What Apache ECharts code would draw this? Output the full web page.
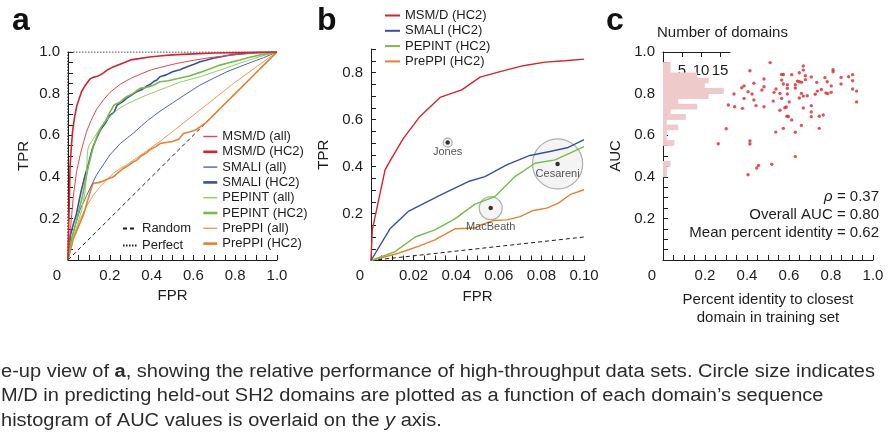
<!DOCTYPE html>
<html>
<head>
<meta charset="utf-8">
<script src="https://cdn.jsdelivr.net/npm/echarts@6/dist/echarts.min.js"></script>
<style>
html, body { margin: 0; padding: 0; background: #fff; }
#main { width: 896px; height: 435px; }
</style>
</head>
<body>
<div id="main"></div>
<script>
// ---- panel a: ROC curves, [FPR, TPR]
var msmAll = [[0,0],[0.005,0.06],[0.012,0.15],[0.025,0.3],[0.04,0.42],[0.057,0.5],[0.075,0.57],[0.09,0.62],[0.11,0.67],[0.137,0.725],[0.17,0.77],[0.2,0.805],[0.25,0.845],[0.3,0.873],[0.35,0.895],[0.4,0.915],[0.45,0.928],[0.52,0.945],[0.6,0.96],[0.66,0.97],[0.72,0.978],[0.79,0.986],[0.87,0.993],[1,1]];
var msmHc2 = [[0,0],[0.003,0.15],[0.007,0.32],[0.01,0.45],[0.015,0.53],[0.022,0.62],[0.032,0.69],[0.042,0.74],[0.055,0.78],[0.065,0.81],[0.08,0.835],[0.09,0.85],[0.105,0.87],[0.12,0.878],[0.14,0.883],[0.155,0.89],[0.17,0.9],[0.19,0.915],[0.21,0.925],[0.24,0.938],[0.27,0.95],[0.3,0.962],[0.34,0.968],[0.39,0.976],[0.45,0.982],[0.5,0.986],[0.6,0.991],[0.7,0.995],[0.8,0.997],[0.9,0.999],[1,1]];
var smaliAll = [[0,0],[0.01,0.08],[0.033,0.16],[0.057,0.24],[0.089,0.31],[0.137,0.41],[0.2,0.505],[0.25,0.56],[0.313,0.61],[0.38,0.67],[0.44,0.715],[0.5,0.755],[0.568,0.8],[0.63,0.84],[0.695,0.873],[0.76,0.905],[0.823,0.93],[0.88,0.952],[0.934,0.972],[1,1]];
var smaliHc2 = [[0,0],[0.005,0.06],[0.012,0.12],[0.025,0.17],[0.04,0.22],[0.05,0.27],[0.065,0.34],[0.08,0.4],[0.1,0.47],[0.115,0.53],[0.13,0.57],[0.155,0.625],[0.18,0.66],[0.2,0.695],[0.22,0.71],[0.235,0.745],[0.26,0.76],[0.28,0.777],[0.3,0.79],[0.33,0.81],[0.355,0.82],[0.375,0.835],[0.395,0.845],[0.41,0.858],[0.425,0.865],[0.44,0.881],[0.47,0.89],[0.5,0.905],[0.535,0.915],[0.57,0.929],[0.6,0.94],[0.632,0.953],[0.66,0.96],[0.695,0.97],[0.74,0.978],[0.775,0.986],[0.83,0.992],[0.89,0.997],[1,1]];
var pepintAll = [[0,0],[0.01,0.06],[0.025,0.11],[0.045,0.17],[0.065,0.24],[0.08,0.32],[0.088,0.4],[0.093,0.52],[0.1,0.55],[0.12,0.58],[0.15,0.63],[0.2,0.69],[0.24,0.725],[0.28,0.749],[0.33,0.773],[0.376,0.793],[0.42,0.81],[0.472,0.83],[0.536,0.855],[0.632,0.881],[0.727,0.913],[0.823,0.946],[0.919,0.978],[1,1]];
var pepintHc2 = [[0,0],[0.005,0.04],[0.012,0.08],[0.025,0.13],[0.04,0.19],[0.055,0.25],[0.07,0.31],[0.085,0.39],[0.1,0.46],[0.12,0.54],[0.14,0.6],[0.16,0.64],[0.18,0.67],[0.2,0.71],[0.22,0.745],[0.25,0.76],[0.28,0.785],[0.31,0.8],[0.344,0.825],[0.375,0.83],[0.408,0.84],[0.44,0.857],[0.48,0.862],[0.536,0.875],[0.58,0.885],[0.632,0.902],[0.68,0.92],[0.727,0.937],[0.775,0.95],[0.823,0.962],[0.87,0.975],[0.92,0.986],[1,1]];
var preppiAll = [[0,0],[0.01,0.05],[0.03,0.12],[0.06,0.2],[0.09,0.26],[0.12,0.31],[0.153,0.352],[0.19,0.39],[0.217,0.417],[0.25,0.44],[0.281,0.457],[0.36,0.513],[0.44,0.57],[0.63,0.72],[0.8,0.855],[1,1]];
var preppiHc2 = [[0,0],[0.01,0.04],[0.025,0.1],[0.05,0.16],[0.075,0.22],[0.095,0.29],[0.11,0.34],[0.121,0.369],[0.145,0.372],[0.169,0.38],[0.19,0.39],[0.217,0.4],[0.24,0.42],[0.265,0.44],[0.29,0.455],[0.31,0.47],[0.329,0.48],[0.35,0.5],[0.375,0.515],[0.392,0.53],[0.42,0.545],[0.44,0.56],[0.47,0.565],[0.5,0.57],[0.53,0.58],[0.552,0.608],[0.58,0.615],[0.61,0.625],[0.632,0.64],[0.66,0.66],[0.7,0.7],[0.75,0.75],[0.8,0.8],[0.85,0.85],[0.9,0.9],[0.95,0.95],[1,1]];
var randomLine = [[0,0],[1,1]];
var perfectLine = [[0,0],[0,1],[1,1]];

// ---- panel b: close-up, FPR 0..0.1
var bMsm = [[0,0],[0.0006,0.13],[0.0066,0.386],[0.0097,0.436],[0.0152,0.52],[0.023,0.613],[0.0324,0.694],[0.0426,0.726],[0.0512,0.78],[0.0606,0.804],[0.0715,0.829],[0.0817,0.844],[0.091,0.85],[0.1,0.857]];
var bSmali = [[0,0],[0.0089,0.135],[0.0175,0.209],[0.033,0.28],[0.0457,0.336],[0.0535,0.357],[0.0637,0.407],[0.0746,0.447],[0.084,0.464],[0.0926,0.481],[0.1,0.514]];
var bPepint = [[0,0],[0.0113,0.038],[0.0207,0.1],[0.03,0.13],[0.0394,0.177],[0.0488,0.24],[0.0582,0.272],[0.0676,0.357],[0.077,0.414],[0.0864,0.428],[0.0934,0.457],[0.1,0.485]];
var bPreppi = [[0,0],[0.0128,0.031],[0.0222,0.06],[0.03,0.088],[0.0394,0.135],[0.0488,0.138],[0.0512,0.15],[0.0574,0.17],[0.0637,0.173],[0.07,0.187],[0.0762,0.213],[0.0825,0.223],[0.088,0.244],[0.0934,0.28],[0.1,0.301]];
var bRandom = [[0,0],[0.1,0.1]];
var hubNames = ['Jones', 'MacBeath', 'Cesareni'];
var hubFpr = [0.036, 0.0562, 0.0876];
var hubTpr = [0.502, 0.223, 0.411];
var hubSize = [1, 6.5, 31];   // relative data-set size

// ---- panel c: per-domain [percent identity, AUC]
var domainPoints = [[0.263,0.559],[0.301,0.631],[0.311,0.745],[0.338,0.798],[0.341,0.737],[0.375,0.828],[0.378,0.729],[0.386,0.837],[0.386,0.777],[0.405,0.809],[0.405,0.41],[0.414,0.91],[0.414,0.572],[0.414,0.558],[0.424,0.798],[0.433,0.85],[0.433,0.769],[0.443,0.742],[0.446,0.442],[0.455,0.454],[0.471,0.817],[0.481,0.87],[0.481,0.833],[0.481,0.737],[0.51,0.949],[0.518,0.46],[0.525,0.764],[0.529,0.806],[0.537,0.615],[0.538,0.822],[0.557,0.801],[0.557,0.72],[0.565,0.892],[0.565,0.865],[0.565,0.777],[0.573,0.892],[0.573,0.846],[0.573,0.633],[0.58,0.732],[0.587,0.736],[0.59,0.691],[0.597,0.69],[0.592,0.843],[0.592,0.826],[0.592,0.798],[0.601,0.76],[0.613,0.891],[0.613,0.673],[0.63,0.843],[0.63,0.827],[0.63,0.614],[0.63,0.497],[0.64,0.86],[0.649,0.9],[0.649,0.857],[0.649,0.779],[0.659,0.801],[0.659,0.647],[0.66,0.855],[0.668,0.933],[0.668,0.913],[0.668,0.788],[0.668,0.731],[0.678,0.886],[0.678,0.867],[0.687,0.79],[0.706,0.88],[0.706,0.742],[0.706,0.712],[0.706,0.689],[0.725,0.797],[0.732,0.854],[0.735,0.812],[0.744,0.691],[0.744,0.633],[0.754,0.82],[0.763,0.697],[0.771,0.877],[0.776,0.803],[0.782,0.857],[0.785,0.8],[0.801,0.837],[0.801,0.806],[0.81,0.915],[0.81,0.905],[0.848,0.878],[0.848,0.846],[0.884,0.881],[0.903,0.891],[0.903,0.862],[0.903,0.822],[0.922,0.812],[0.922,0.76]];
// histogram of AUC, bins of 0.025 (lower edges)
var aucBinLo = [0.925,0.9,0.875,0.85,0.825,0.8,0.775,0.75,0.725,0.7,0.675,0.65,0.625,0.6,0.575,0.55,0.45,0.425,0.4];
var aucCounts = [2,2,9,12,11,16,12,4,9,2,6,1,4,1,1,3,2,1,1];
var countTicks = [5, 10, 15];

var statLines = ['{i|ρ} = 0.37', 'Overall AUC = 0.80', 'Mean percent identity = 0.62'];
var captionLines = [
  'e-up view of {b|a}, showing the relative performance of high-throughput data sets. Circle size indicates',
  'M/D in predicting held-out SH2 domains are plotted as a function of each domain\u2019s sequence',
  'histogram of AUC values is overlaid on the {i|y} axis.'
];

var FONT = '"Liberation Sans", Arial, Helvetica, sans-serif';
var INK = '#1d1d1b';
var RED = '#d3242b', RED_L = '#e2474c';
var BLUE = '#3b4fa1', BLUE_L = '#4f63b4';
var GREEN = '#78bc43', GREEN_L = '#92ce62';
var ORANGE = '#e6812b', ORANGE_L = '#ef9a55';

function xLabel(step, digits) {
  return function (v) {
    if (Math.abs(v) < 1e-9) return '{o|0}';
    var k = v / step;
    return Math.abs(k - Math.round(k)) < 1e-6 ? v.toFixed(digits) : '';
  };
}
function yLabel(step, digits) {
  return function (v) {
    if (Math.abs(v) < 1e-9) return '';
    var k = v / step;
    return Math.abs(k - Math.round(k)) < 1e-6 ? v.toFixed(digits) : '';
  };
}

function axis(grid, min, max, interval, fmt, name, nameGap) {
  return {
    type: 'value', gridIndex: grid, min: min, max: max, interval: interval,
    splitLine: { show: false },
    axisLine: { show: true, onZero: false, lineStyle: { color: INK, width: 1 } },
    axisTick: { show: true, inside: true, length: 5, lineStyle: { color: INK, width: 1 } },
    axisLabel: {
      color: INK, fontFamily: FONT, fontSize: 15, margin: 8,
      showMinLabel: true, showMaxLabel: true, formatter: fmt,
      rich: { o: { padding: [0, 22, 0, 0], fontFamily: FONT, fontSize: 15, color: INK } }
    },
    name: name, nameLocation: 'middle', nameGap: nameGap,
    nameTextStyle: { color: INK, fontFamily: FONT, fontSize: 15, lineHeight: 18 }
  };
}

function line(name, data, color, width, ax, extra) {
  var s = {
    type: 'line', name: name, data: data, xAxisIndex: ax, yAxisIndex: ax,
    symbol: 'none', showSymbol: false, silent: true, clip: true, z: 3,
    lineStyle: { color: color, width: width }, itemStyle: { color: color }
  };
  return Object.assign(s, extra || {});
}

// legend entry: thin line for "all", thick for "HC2"
function key(name) {
  return { name: name, lineStyle: { width: /HC2/.test(name) ? 2.6 : 1.4 } };
}

var hubLabelGap = [2, 11, 2];
var hubs = hubNames.map(function (n, i) {
  return { name: n, value: [hubFpr[i], hubTpr[i], hubSize[i]] };
});
var hubDots = hubNames.map(function (n, i) {
  return {
    name: n, value: [hubFpr[i], hubTpr[i]],
    label: { show: true, position: 'bottom', distance: hubLabelGap[i], formatter: '{b}' }
  };
});
var histData = aucBinLo.map(function (lo, i) { return [lo, lo + 0.025, aucCounts[i]]; });

var legendText = { color: INK, fontFamily: FONT, fontSize: 13 };
var noSymbol = { opacity: 0 };

var option = {
  animation: false,
  backgroundColor: '#ffffff',
  grid: [
    { left: 68, top: 52, width: 209, height: 208 },
    { left: 371, top: 49, width: 213, height: 211.5 },
    { left: 663, top: 52, width: 210, height: 208 },
    { left: 663, top: 52, width: 67, height: 208 }
  ],
  xAxis: [
    axis(0, 0, 1, 0.05, xLabel(0.2, 1), 'FPR', 27),
    axis(1, 0, 0.1, 0.005, xLabel(0.02, 2), 'FPR', 27),
    axis(2, 0, 1, 0.05, xLabel(0.2, 1), 'Percent identity to closest\ndomain in training set', 31),
    {
      type: 'value', gridIndex: 3, position: 'top', min: 0, max: 17.6, interval: 5,
      splitLine: { show: false },
      axisLine: { show: true, onZero: false, lineStyle: { color: INK, width: 1 } },
      axisTick: { show: true, inside: true, length: 5, customValues: countTicks, lineStyle: { color: INK } },
      axisLabel: {
        inside: true, margin: 11, color: INK, fontFamily: FONT, fontSize: 15, customValues: countTicks,
        formatter: function (v) { return (v > 0 && v % 5 === 0) ? String(v) : ''; }
      }
    }
  ],
  yAxis: [
    axis(0, 0, 1, 0.05, yLabel(0.2, 1), 'TPR', 35),
    axis(1, 0, 0.9, 0.05, yLabel(0.2, 1), 'TPR', 38),
    axis(2, 0, 1, 0.05, yLabel(0.2, 1), 'AUC', 38),
    { type: 'value', gridIndex: 3, min: 0, max: 1, show: false }
  ],
  legend: [
    {
      orient: 'vertical', left: 202, top: 130, padding: 0, itemGap: 2.3,
      itemWidth: 14, itemHeight: 12, textStyle: legendText, selectedMode: false, itemStyle: noSymbol,
      data: ['MSM/D (all)', 'MSM/D (HC2)', 'SMALI (all)', 'SMALI (HC2)', 'PEPINT (all)', 'PEPINT (HC2)', 'PrePPI (all)', 'PrePPI (HC2)'].map(key)
    },
    {
      orient: 'vertical', left: 122, top: 222, padding: 0, itemGap: 4,
      itemWidth: 14, itemHeight: 12, textStyle: legendText, selectedMode: false, itemStyle: noSymbol,
      data: ['Random', 'Perfect']
    },
    {
      orient: 'vertical', left: 384, top: 9, padding: 0, itemGap: 2.3,
      itemWidth: 15, itemHeight: 13, textStyle: legendText, selectedMode: false, itemStyle: noSymbol,
      data: ['MSM/D (HC2)', 'SMALI (HC2)', 'PEPINT (HC2)', 'PrePPI (HC2)'].map(function (n) {
        return { name: n, lineStyle: { width: 2 } };
      })
    }
  ],
  series: [
    line('Random', randomLine, INK, 1, 0, { lineStyle: { color: INK, width: 1, type: [4, 3] }, z: 2 }),
    line('Perfect', perfectLine, INK, 1.2, 0, { lineStyle: { color: INK, width: 1.2, type: [1.5, 1.5] }, z: 2 }),
    line('PrePPI (all)', preppiAll, ORANGE_L, 1, 0),
    line('PrePPI (HC2)', preppiHc2, ORANGE, 1.6, 0),
    line('SMALI (all)', smaliAll, BLUE_L, 1, 0),
    line('SMALI (HC2)', smaliHc2, BLUE, 1.6, 0),
    line('PEPINT (all)', pepintAll, GREEN_L, 1, 0),
    line('PEPINT (HC2)', pepintHc2, GREEN, 1.6, 0),
    line('MSM/D (all)', msmAll, RED_L, 1, 0),
    line('MSM/D (HC2)', msmHc2, RED, 1.6, 0),

    {
      type: 'scatter', name: 'hub size', xAxisIndex: 1, yAxisIndex: 1, silent: true, z: 1,
      data: hubs,
      symbolSize: function (v) { return 9 * Math.sqrt(v[2]); },
      itemStyle: { color: 'rgba(225,225,225,0.45)', borderColor: '#9b9b9b', borderWidth: 1.2 }
    },
    line('Random', bRandom, INK, 1, 1, { lineStyle: { color: INK, width: 1, type: [4, 3] }, z: 2 }),
    line('PrePPI (HC2)', bPreppi, ORANGE, 1.4, 1),
    line('PEPINT (HC2)', bPepint, GREEN, 1.4, 1),
    line('SMALI (HC2)', bSmali, BLUE, 1.4, 1),
    line('MSM/D (HC2)', bMsm, RED, 1.4, 1),
    {
      type: 'scatter', name: 'hub', xAxisIndex: 1, yAxisIndex: 1, silent: true, z: 5,
      data: hubDots, symbolSize: 4.5, itemStyle: { color: '#000' },
      label: { color: '#2a2a2a', fontFamily: FONT, fontSize: 11 }
    },

    {
      type: 'custom', name: 'AUC histogram', xAxisIndex: 3, yAxisIndex: 3, silent: true, z: 1,
      data: histData, encode: { x: 2, y: [0, 1] },
      renderItem: function (params, api) {
        var p0 = api.coord([0, api.value(1)]);
        var p1 = api.coord([api.value(2), api.value(0)]);
        return {
          type: 'rect',
          shape: { x: p0[0], y: p0[1] - 0.3, width: p1[0] - p0[0], height: p1[1] - p0[1] + 0.6 },
          style: { fill: '#efcaca' }
        };
      }
    },
    {
      type: 'scatter', name: 'domains', xAxisIndex: 2, yAxisIndex: 2, silent: true, z: 4,
      data: domainPoints, symbol: 'circle', symbolSize: 3.4, itemStyle: { color: '#d8282e' }
    }
  ],
  graphic: []
};

// panel letters
[['a', 12], ['b', 317], ['c', 606]].forEach(function (p) {
  option.graphic.push({
    type: 'text', x: p[1], y: 21, silent: true,
    style: { text: p[0], font: 'bold 32px ' + FONT, fill: '#111', verticalAlign: 'middle' }
  });
});

option.graphic.push({
  type: 'text', x: 657, y: 33, silent: true,
  style: { text: 'Number of domains', font: '15px ' + FONT, fill: INK, verticalAlign: 'middle' }
});

statLines.forEach(function (t, i) {
  option.graphic.push({
    type: 'text', x: 879, y: 197 + i * 18, silent: true,
    style: {
      text: t, font: '15px ' + FONT, fill: INK, align: 'right', verticalAlign: 'middle',
      rich: { i: { fontStyle: 'italic', fontFamily: FONT, fontSize: 15, fill: INK } }
    }
  });
});

// caption lines, squeezed to the width of the printed column
var ctx = document.createElement('canvas').getContext('2d');
ctx.font = '18px "Liberation Sans"';
var capScale = 874 / ctx.measureText(captionLines[0].replace(/\{[bi]\||\}/g, '')).width;
captionLines.forEach(function (t, i) {
  option.graphic.push({
    type: 'text', x: 1, y: 372 + i * 24.5, scaleX: capScale, silent: true,
    style: {
      text: t, font: '18px ' + FONT, fill: '#2b2b2b', verticalAlign: 'middle',
      rich: {
        b: { fontWeight: 'bold', fontFamily: FONT, fontSize: 18, fill: '#2b2b2b' },
        i: { fontStyle: 'italic', fontFamily: FONT, fontSize: 18, fill: '#2b2b2b' }
      }
    }
  });
});

var chart = echarts.init(document.getElementById('main'));
chart.setOption(option);
</script>
</body>
</html>
